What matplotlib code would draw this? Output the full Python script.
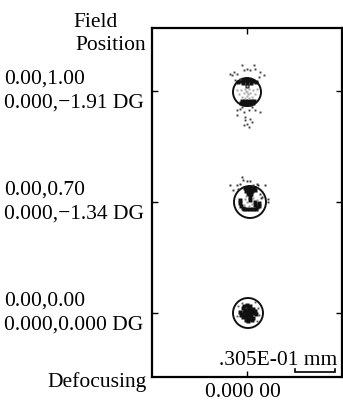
import matplotlib
matplotlib.use('Agg')
import matplotlib.pyplot as plt
from matplotlib.patches import Circle

# ---------------- data ----------------
FIELD_REL = ["0.00,0.00", "0.00,0.70", "0.00,1.00"]
FIELD_ANG = ["0.000,0.000 DG", "0.000,\u22121.34 DG", "0.000,\u22121.91 DG"]
FIELD_Y = [0, 111, 222]            # row positions of the field points
DEFOCUS_LABEL = "0.000 00"
SCALE_LABEL = ".305E-01 mm"

# spot centres and Airy-disk radii (same units as axis)
SPOT_CX = [1, 3, 0]
SPOT_CY = [0, 111, 221]
AIRY_R = [15, 16, 14]

# spot 3 (on axis): dense core + faint halo
S3_CORE_X = [0, 2, -2, 0, 0, 4, -4, 1, -1, 3, -3, 3, -3, 6, -6, 0, 1, 5, -5, 5, -5, 7, -7, 2, -2, 8, -8, -1, 0, 4, -4]
S3_CORE_Y = [0, 0, 0, 2, -2, 1, 1, 4, -4, -3, 3, 3, -3, 0, -1, 6, -6, 4, -4, -5, 5, 2, -2, 7, -7, -1, 1, 8, -8, -7, 7]
S3_HALO_X = [10, -11, 9, -6, 11, -10, 7]
S3_HALO_Y = [5, -3, -8, 10, -2, 7, 11]

# spot 2 (0.70 field)
S2_DARK_X = [-5, -2, 1, 4, -4, -1, 2, 5, -2, 1, 0, 0, -6, -3, 0, 3, 6, -10, -10, -9, -7, 5, 5, 7, 9, 9]
S2_DARK_Y = [14, 14, 14, 14, 11, 11, 11, 12, 8, 8, 5, 2, -7, -7, -7, -7, -7, 2, -1, -4, -6, 0, -3, -5, -4, -1]
S2_GREY_X = [-3, 2, -5, -1, -4, 3, -6, 7]
S2_GREY_Y = [0, -2, 3, -4, 6, 4, -3, 2]
S2_SCAT_X = [-8, -7, -3, 0, -10, -13, -20, 7, 8, 15, 18, 18, -17, -12, 10, 12, 3, 11]
S2_SCAT_Y = [25, 22, 21, 21, 18, 17, 17, 18, 17, 17, 3, 0, 12, 13, 8, 5, 17, 4]

# spot 1 (1.00 field)
S1_DARK_X = [-6, -3, 0, 3, 6, -4, 0, 4, 0, -9, 9, -5, -2, 1, 4, 7, -3, 0, 3, 6, -6]
S1_DARK_Y = [11, 12, 12, 12, 11, 9, 9, 9, 6, 10, 10, -9, -9, -9, -9, -9, -12, -12, -12, -11, -11]
S1_GREY_X = [-2, 2, 0, -3, 3, 0, -2, 2, -6, 6, -8, 8, -5, 5, -10, 10, 0, -1, 1]
S1_GREY_Y = [3, 3, 0, -1, -1, -4, -6, -6, 2, 2, -2, -2, -5, -5, 2, 3, 6, 1, -2]
S1_SCAT_X = [-5, 0, 7, 3, -13, -15, -17, -10, 13, 17, 12, -12, -7, 8, -3,
             -10, -7, -3, 2, 8, 13, -10, -2, 3, 0, -3, 2, 5, -2, -5, 5]
S1_SCAT_Y = [27, 23, 27, 22, 20, 17, 18, 18, 20, 17, 15, 12, 13, 23, 22,
             -18, -17, -20, -18, -18, -20, -23, -25, -27, -32, -33, -35, -30, -28, -15, -15]

# ---------------- figure ----------------
W, H = 343, 401
plt.rcParams['font.family'] = ['Liberation Serif', 'DejaVu Serif']
FS = 15.5

fig = plt.figure(figsize=(W / 100, H / 100), dpi=100)
ax = fig.add_axes([152 / W, 1 - 377 / H, 190 / W, 349 / H])
ax.set_xlim(-95, 95)
ax.set_ylim(-64, 285)

for cx, cy, r in zip(SPOT_CX, SPOT_CY, AIRY_R):
    ax.add_patch(Circle((cx, cy), r, fill=False, ec='#111111', lw=1.4, zorder=2))

def dots(xs, ys, cx, cy, color, ms):
    ax.plot([cx + x for x in xs], [cy + y for y in ys], ls='none', marker='s',
            ms=ms, mec='none', mfc=color, zorder=3)

dots(S3_CORE_X, S3_CORE_Y, SPOT_CX[0], SPOT_CY[0], '#111111', 2.4)
dots(S3_HALO_X, S3_HALO_Y, SPOT_CX[0], SPOT_CY[0], '#555555', 1.3)
dots(S2_DARK_X, S2_DARK_Y, SPOT_CX[1], SPOT_CY[1], '#111111', 2.2)
dots(S2_GREY_X, S2_GREY_Y, SPOT_CX[1], SPOT_CY[1], '#999999', 1.8)
dots(S2_SCAT_X, S2_SCAT_Y, SPOT_CX[1], SPOT_CY[1], '#333333', 1.4)
dots(S1_DARK_X, S1_DARK_Y, SPOT_CX[2], SPOT_CY[2], '#111111', 2.2)
dots(S1_GREY_X, S1_GREY_Y, SPOT_CX[2], SPOT_CY[2], '#aaaaaa', 2.0)
dots(S1_SCAT_X, S1_SCAT_Y, SPOT_CX[2], SPOT_CY[2], '#444444', 1.4)

ax.set_yticks(FIELD_Y)
ax.set_xticks([0])
ax.tick_params(direction='in', length=4, width=1, left=True, right=True,
               top=True, bottom=True, labelleft=False, labelbottom=False)
for s in ax.spines.values():
    s.set_linewidth(1.6)

# scale bar
ax.plot([48, 48, 88, 88], [-56, -59, -59, -56], color='black', lw=1.2,
        solid_joinstyle='miter', zorder=4)
ax.text(90, -52, SCALE_LABEL, ha='right', va='baseline', fontsize=FS, zorder=5)

# field labels
for fy, rel, ang in zip(FIELD_Y, FIELD_REL, FIELD_ANG):
    ax.annotate(rel, xy=(4 / W, fy), xycoords=('figure fraction', 'data'),
                xytext=(0, 7 * 0.72), textcoords='offset points',
                ha='left', va='baseline', fontsize=FS, annotation_clip=False)
    ax.annotate(ang, xy=(4 / W, fy), xycoords=('figure fraction', 'data'),
                xytext=(0, -17 * 0.72), textcoords='offset points',
                ha='left', va='baseline', fontsize=FS, annotation_clip=False)

fig.text(118 / W, 1 - 27 / H, "Field", ha='right', va='baseline', fontsize=FS)
fig.text(146 / W, 1 - 50 / H, "Position", ha='right', va='baseline', fontsize=FS)
fig.text(147 / W, 1 - 387 / H, "Defocusing", ha='right', va='baseline', fontsize=FS)
fig.text(243 / W, 1 - 397 / H, DEFOCUS_LABEL, ha='center', va='baseline', fontsize=FS)

fig.savefig('out.png', dpi=100)
